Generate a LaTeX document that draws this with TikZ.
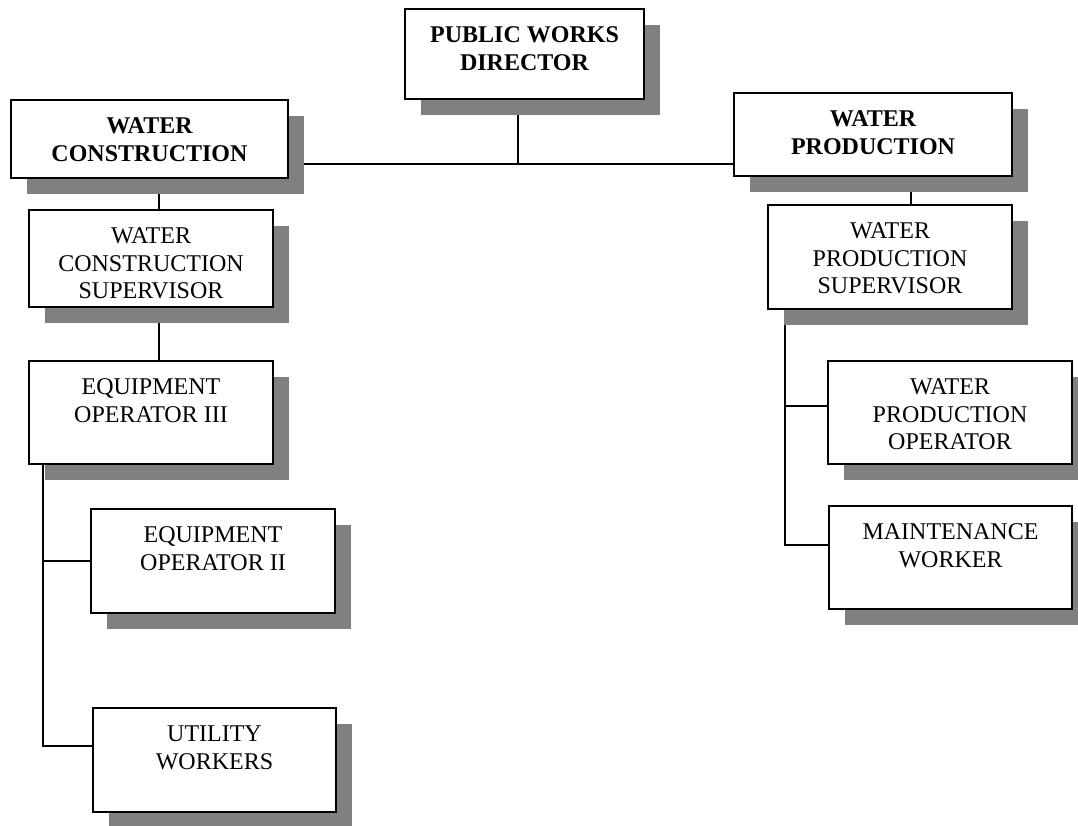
\documentclass[tikz,border=0pt]{standalone}
\usepackage{fontspec}
\setmainfont{Liberation Serif}
\usetikzlibrary{shadows,backgrounds}
\definecolor{shgray}{HTML}{808080}
\newcommand\boxtext[3]{\parbox[t][#2pt][t]{#1pt}{\centering\rule{0pt}{33.5pt}#3}}
\tikzset{
  orgbox/.style={draw=black, line width=2.2pt, fill=white, inner sep=0pt, outer sep=0pt,
    anchor=north west, font=\fontsize{24}{27.5}\selectfont,
    drop shadow={shadow xshift=16pt, shadow yshift=-16pt, opacity=1, fill=shgray}},
  conn/.style={draw=black, line width=1.7pt}
}
\begin{document}
\begin{tikzpicture}[x=1pt,y=-1pt]
\useasboundingbox (0,0) rectangle (1078,825);
\node[orgbox] (pwd) at (405,9)   {\boxtext{239}{90}{\bfseries PUBLIC WORKS\\DIRECTOR}};
\node[orgbox] (wc)  at (11,100)  {\boxtext{277}{78}{\bfseries WATER\\CONSTRUCTION}};
\node[orgbox] (wp)  at (734,93)  {\boxtext{278}{83}{\bfseries WATER\\PRODUCTION}};
\node[orgbox] (wcs) at (29,210)  {\boxtext{244}{97}{WATER\\CONSTRUCTION\\SUPERVISOR}};
\node[orgbox] (wps) at (768,205) {\boxtext{244}{104}{WATER\\PRODUCTION\\SUPERVISOR}};
\node[orgbox] (eo3) at (29,361)  {\boxtext{244}{103}{EQUIPMENT\\OPERATOR III}};
\node[orgbox] (wpo) at (828,361) {\boxtext{244}{103}{WATER\\PRODUCTION\\OPERATOR}};
\node[orgbox] (mw)  at (829,506) {\boxtext{243}{103}{MAINTENANCE\\WORKER}};
\node[orgbox] (eo2) at (91,509)  {\boxtext{244}{104}{EQUIPMENT\\OPERATOR II}};
\node[orgbox] (uw)  at (93,708)  {\boxtext{243}{104}{UTILITY\\WORKERS}};
\coordinate (hub) at (518,164);
\coordinate (cx) at (159,0);
\coordinate (px) at (911,0);
\coordinate (lb) at (43,0);
\coordinate (rb) at (785,0);
\begin{pgfonlayer}{background}
\draw[conn] (pwd.south -| hub) -- (hub);
\draw[conn] (wc.east |- hub) -- (wp.west |- hub);
\draw[conn] (wc.south -| cx) -- (wcs.north -| cx);
\draw[conn] (wcs.south -| cx) -- (eo3.north -| cx);
\draw[conn] (wp.south -| px) -- (wps.north -| px);
\draw[conn] (eo3.south -| lb) |- ([yshift=-38pt]uw.north west);
\draw[conn] (lb |- eo2.west) -- (eo2.west);
\draw[conn] (wps.south -| rb) |- ([yshift=-39pt]mw.north west);
\draw[conn] (rb |- 0,406) -- (wpo.west |- 0,406);
\end{pgfonlayer}
\end{tikzpicture}
\end{document}
